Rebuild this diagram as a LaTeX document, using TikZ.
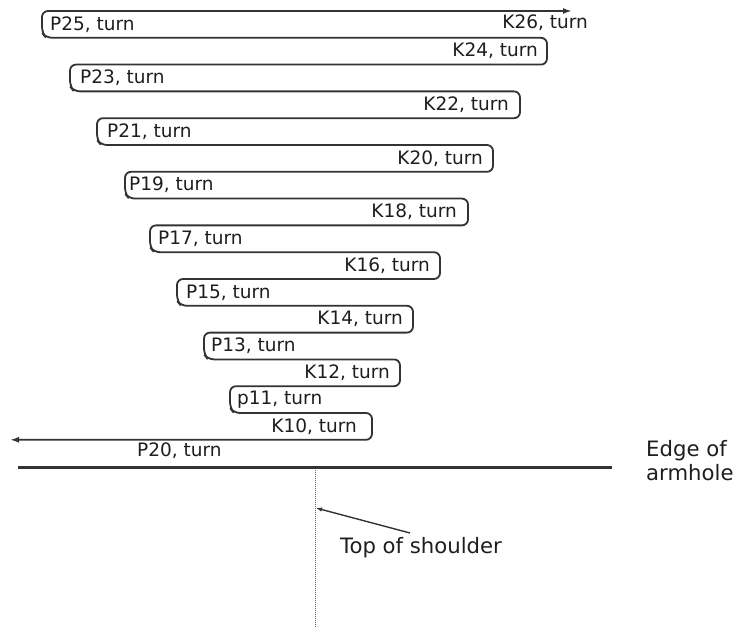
\documentclass[tikz,border=0pt]{standalone}
\usepackage{fontspec}
\setmainfont{DejaVu Sans}
\usetikzlibrary{arrows.meta}
\definecolor{ink}{HTML}{333333}
\definecolor{txt}{HTML}{1e1e1e}
\tikzset{
  zig/.style={draw=ink, line width=1.8pt, rounded corners=6pt},
  lbl/.style={text=txt, inner sep=0pt, font=\fontsize{18.5}{21}\selectfont},
  big/.style={text=txt, inner sep=0pt, font=\fontsize{21.2}{23.5}\selectfont, align=left},
  edgeline/.style={draw=ink, line width=3pt},
  tipboth/.style={{Latex[length=9pt,width=6pt]}-{Latex[length=9pt,width=6pt]}},
}
\def\lturn#1#2#3{(#1,#2) -- (#1,#3-5) -- (#1+4,#3)}
\def\rturn#1#2#3{(#1,#2) -- (#1,#3)}
\begin{document}
\begin{tikzpicture}[x=1pt,y=-1pt]
\useasboundingbox (0,0) rectangle (749,628);
\coordinate (start) at (572,11);
\coordinate (end) at (10,439.8);
\draw[zig, tipboth]
  (start)
  -- \lturn{42}{11}{37.8}
  -- \rturn{547}{37.8}{64.6}
  -- \lturn{70}{64.6}{91.4}
  -- \rturn{520}{91.4}{118.2}
  -- \lturn{97}{118.2}{145}
  -- \rturn{493}{145}{171.8}
  -- \lturn{125}{171.8}{198.6}
  -- \rturn{468}{198.6}{225.4}
  -- \lturn{150}{225.4}{252.2}
  -- \rturn{440}{252.2}{279}
  -- \lturn{177}{279}{305.8}
  -- \rturn{413}{305.8}{332.6}
  -- \lturn{204}{332.6}{359.4}
  -- \rturn{400}{359.4}{386.2}
  -- \lturn{230}{386.2}{413}
  -- \rturn{372}{413}{439.8}
  -- (end);
% labels
\node[lbl, anchor=east] (k26) at (588,22.5) {K26, turn};
\node[lbl, anchor=west] (p25) at (50,24.4) {P25, turn};
\node[lbl, anchor=east] (k24) at (538,51.2) {K24, turn};
\node[lbl, anchor=west] (p23) at (80,78) {P23, turn};
\node[lbl, anchor=east] (k22) at (509,104.8) {K22, turn};
\node[lbl, anchor=west] (p21) at (107,131.6) {P21, turn};
\node[lbl, anchor=east] (k20) at (483,158.4) {K20, turn};
\node[lbl, anchor=west] (p19) at (129,185.2) {P19, turn};
\node[lbl, anchor=east] (k18) at (457,212) {K18, turn};
\node[lbl, anchor=west] (p17) at (158,238.8) {P17, turn};
\node[lbl, anchor=east] (k16) at (430,265.6) {K16, turn};
\node[lbl, anchor=west] (p15) at (186,292.4) {P15, turn};
\node[lbl, anchor=east] (k14) at (403,319.2) {K14, turn};
\node[lbl, anchor=west] (p13) at (211,346) {P13, turn};
\node[lbl, anchor=east] (k12) at (390,372.8) {K12, turn};
\node[lbl, anchor=west] (p11) at (237,399.6) {p11, turn};
\node[lbl, anchor=east] (k10) at (357,426.4) {K10, turn};
\node[lbl, anchor=west] (p20) at (137,450.5) {P20, turn};
% edge of armhole
\coordinate (e1) at (18,467.5);
\coordinate (e2) at (612,467.5);
\draw[edgeline] (e1) -- (e2);
\node[big, anchor=base west] (edge) at (646,480) {Edge of\\armhole};
% shoulder
\coordinate (d1) at (315,470);
\coordinate (d2) at (315,628);
\draw[ink!80, line width=0.9pt, dash pattern=on 1pt off 1pt] (d1) -- (d2);
\node[big, anchor=base west] (top) at (340,553) {Top of shoulder};
\coordinate (a1) at (410,533);
\coordinate (a2) at (316,508);
\draw[ink, line width=1.4pt, -{Latex[length=6pt,width=4.5pt]}] (a1) -- (a2);
\end{tikzpicture}
\end{document}
